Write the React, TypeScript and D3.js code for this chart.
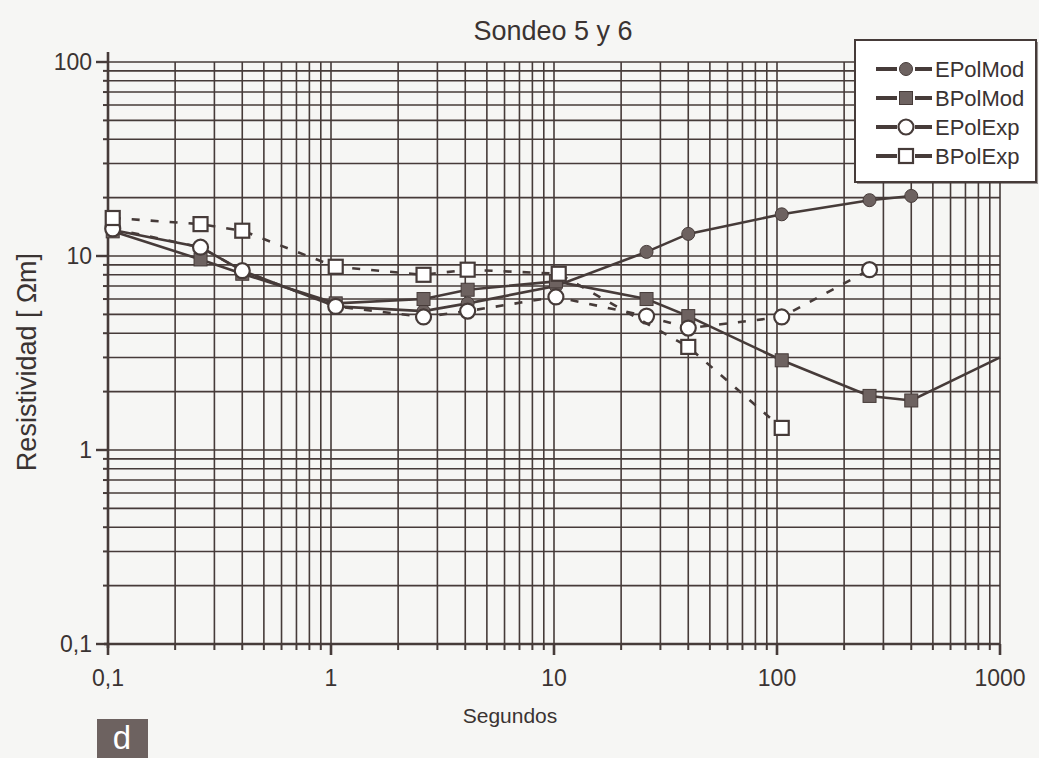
import React from "react";
import * as d3 from "d3";

const title = "Sondeo 5 y 6";
const xLabel = "Segundos";
const yLabel = "Resistividad [ Ωm]";
const xTickValues = [0.1, 1, 10, 100, 1000];
const xTickLabels = ["0,1", "1", "10", "100", "1000"];
const yTickValues = [0.1, 1, 10, 100];
const yTickLabels = ["0,1", "1", "10", "100"];

const ePolModX = [0.105, 0.26, 0.4, 1.05, 2.6, 4.1, 10.2, 26, 40, 105, 260, 400];
const ePolModY = [13.6, 11.1, 8.4, 5.5, 5.2, 5.7, 7.0, 10.5, 13.0, 16.4, 19.4, 20.4];
const bPolModX = [0.105, 0.26, 0.4, 1.05, 2.6, 4.1, 10.2, 26, 40, 105, 260, 400, 1000];
const bPolModY = [13.4, 9.6, 8.1, 5.7, 6.0, 6.7, 7.4, 6.0, 4.9, 2.9, 1.9, 1.8, 3.0];
const ePolExpX = [0.105, 0.26, 0.4, 1.05, 2.6, 4.1, 10.2, 26, 40, 105, 260];
const ePolExpY = [13.8, 11.1, 8.4, 5.5, 4.85, 5.2, 6.15, 4.9, 4.25, 4.85, 8.5];
const bPolExpX = [0.105, 0.26, 0.4, 1.05, 2.6, 4.1, 10.5, 40, 105];
const bPolExpY = [15.7, 14.6, 13.5, 8.8, 8.0, 8.5, 8.1, 3.4, 1.3];

const seriesNames = ["EPolMod", "BPolMod", "EPolExp", "BPolExp"];

const INK = "#463b39";
const FILL = "#6d6260";
const PAPER = "#f6f6f4";
const TEXT = "#3a3332";
const FONT = "'Liberation Sans', Arial, sans-serif";

type Pt = [number, number];
const zip = (xs: number[], ys: number[]): Pt[] => xs.map((x, i) => [x, ys[i]]);

const series = [
  { name: seriesNames[0], pts: zip(ePolModX, ePolModY), marker: "circle", filled: true, dashed: false },
  { name: seriesNames[1], pts: zip(bPolModX, bPolModY), marker: "square", filled: true, dashed: false },
  { name: seriesNames[2], pts: zip(ePolExpX, ePolExpY), marker: "circle", filled: false, dashed: true },
  { name: seriesNames[3], pts: zip(bPolExpX, bPolExpY), marker: "square", filled: false, dashed: true },
];

function Marker({ kind, filled, cx, cy }: { kind: string; filled: boolean; cx: number; cy: number }) {
  if (kind === "circle") {
    return filled ? (
      <circle cx={cx} cy={cy} r={6.5} fill={FILL} stroke={INK} strokeWidth={1} />
    ) : (
      <circle cx={cx} cy={cy} r={7.5} fill="#ffffff" stroke={INK} strokeWidth={2.2} />
    );
  }
  const s = filled ? 13 : 14;
  return filled ? (
    <rect x={cx - s / 2} y={cy - s / 2} width={s} height={s} fill={FILL} stroke={INK} strokeWidth={1} />
  ) : (
    <rect x={cx - s / 2} y={cy - s / 2} width={s} height={s} fill="#ffffff" stroke={INK} strokeWidth={2.2} />
  );
}

export default function App() {
  const W = 1039, H = 758;
  const left = 108, right = 1000, top = 62, bottom = 644;
  const x = d3.scaleLog().domain([0.1, 1000]).range([left, right]);
  const y = d3.scaleLog().domain([0.1, 100]).range([bottom, top]);

  const minorX: number[] = [];
  for (let e = -1; e < 3; e++) for (let m = 2; m <= 9; m++) minorX.push(m * Math.pow(10, e));
  const minorY: number[] = [];
  for (let e = -1; e < 2; e++) for (let m = 2; m <= 9; m++) minorY.push(m * Math.pow(10, e));

  const line = d3
    .line<Pt>()
    .x((d) => x(d[0]))
    .y((d) => y(d[1]));

  return (
    <svg
      width={W}
      height={H}
      style={{ position: "fixed", left: 0, top: 0, background: PAPER }}
      fontFamily={FONT}
    >
      <rect x={0} y={0} width={W} height={H} fill={PAPER} />
      <text x={553} y={40} textAnchor="middle" fontSize={27} fill={TEXT}>
        {title}
      </text>

      {/* grid */}
      <g stroke={INK} strokeWidth={1.6}>
        {minorX.concat(xTickValues).map((v, i) => (
          <line key={"vx" + i} x1={x(v)} x2={x(v)} y1={top} y2={bottom} />
        ))}
        {minorY.concat(yTickValues).map((v, i) => (
          <line key={"hy" + i} x1={left} x2={right} y1={y(v)} y2={y(v)} />
        ))}
      </g>

      {/* axes */}
      <g stroke={INK}>
        <line x1={left} x2={left} y1={top - 10} y2={bottom + 4} strokeWidth={2.6} />
        <line x1={left - 4} x2={right} y1={bottom} y2={bottom} strokeWidth={2.6} />
        {minorY.map((v, i) => (
          <line key={"ty" + i} x1={left - 5} x2={left} y1={y(v)} y2={y(v)} strokeWidth={2} />
        ))}
        {yTickValues.map((v, i) => (
          <line key={"tY" + i} x1={left - 12} x2={left} y1={y(v)} y2={y(v)} strokeWidth={2.4} />
        ))}
        {minorX.map((v, i) => (
          <line key={"tx" + i} x1={x(v)} x2={x(v)} y1={bottom} y2={bottom + 6} strokeWidth={2} />
        ))}
        {xTickValues.map((v, i) => (
          <line key={"tX" + i} x1={x(v)} x2={x(v)} y1={bottom} y2={bottom + 11} strokeWidth={2.6} />
        ))}
      </g>

      {/* tick labels */}
      <g fontSize={23} fill={TEXT}>
        {yTickValues.map((v, i) => (
          <text key={"ly" + i} x={92} y={y(v) + 8} textAnchor="end">
            {yTickLabels[i]}
          </text>
        ))}
        {xTickValues.map((v, i) => (
          <text key={"lx" + i} x={x(v)} y={686} textAnchor="middle">
            {xTickLabels[i]}
          </text>
        ))}
      </g>

      <text x={510} y={723} textAnchor="middle" fontSize={21} fill={TEXT}>
        {xLabel}
      </text>
      <text
        transform="translate(36,362) rotate(-90)"
        textAnchor="middle"
        fontSize={27}
        fill={TEXT}
      >
        {yLabel}
      </text>

      {/* series */}
      {series.map((s, si) => (
        <g key={"s" + si}>
          <path
            d={line(s.pts) || ""}
            fill="none"
            stroke={INK}
            strokeWidth={2.6}
            strokeDasharray={s.dashed ? "8 11" : undefined}
          />
          {s.pts
            .filter((p) => p[0] < 1000)
            .map((p, pi) => (
              <Marker key={pi} kind={s.marker} filled={s.filled} cx={x(p[0])} cy={y(p[1])} />
            ))}
        </g>
      ))}

      {/* legend */}
      <g>
        <rect x={857} y={42} width={181} height={142} fill="#3d3433" opacity={0.5} />
        <rect x={855} y={40} width={181} height={142} fill="#ffffff" stroke={INK} strokeWidth={2} />
        {series.map((s, i) => {
          const cy = 69 + i * 29;
          return (
            <g key={"lg" + i}>
              <line x1={876} x2={897} y1={cy} y2={cy} stroke={INK} strokeWidth={4} />
              <line x1={915} x2={932} y1={cy} y2={cy} stroke={INK} strokeWidth={4} />
              <Marker kind={s.marker} filled={s.filled} cx={906} cy={cy} />
              <text x={935} y={cy + 8} fontSize={22} fill={TEXT}>
                {s.name}
              </text>
            </g>
          );
        })}
      </g>

      {/* panel letter */}
      <rect x={97} y={719} width={51} height={39} fill={FILL} />
      <text x={122} y={749} textAnchor="middle" fontSize={33} fill="#ffffff">
        d
      </text>
    </svg>
  );
}
